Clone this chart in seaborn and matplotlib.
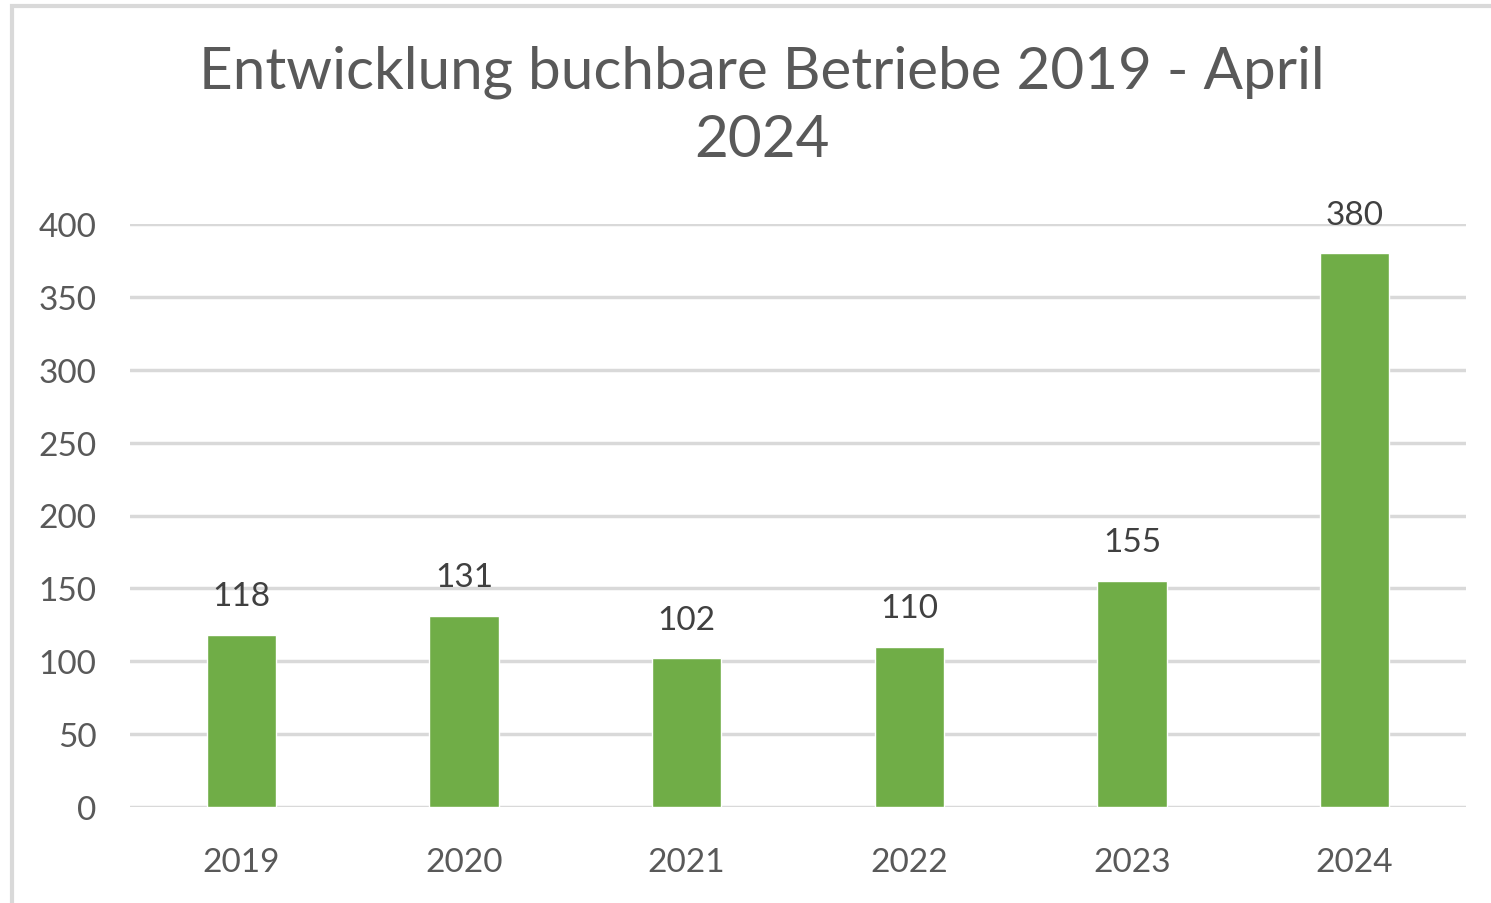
import matplotlib
matplotlib.use("Agg")
import matplotlib.pyplot as plt
import seaborn as sns
import pandas as pd
from matplotlib.patches import Rectangle

# Daten
jahre = ["2019", "2020", "2021", "2022", "2023", "2024"]
betriebe = [118, 131, 102, 110, 155, 380]
y_ticks = [0, 50, 100, 150, 200, 250, 300, 350, 400]

df = pd.DataFrame({"Jahr": jahre, "Betriebe": betriebe})

sns.set_theme(style="white")
plt.rcParams["font.family"] = ["Lato", "DejaVu Sans"]

text_col = "#595959"
grid_col = "#D9D9D9"
bar_col = "#70AD47"

fig = plt.figure(figsize=(14.91, 9.04), dpi=100)
ax = fig.add_axes([130 / 1491, 1 - 808 / 904, 1336 / 1491, 583 / 904])

sns.barplot(data=df, x="Jahr", y="Betriebe", color=bar_col, width=0.31,
            saturation=1, ax=ax, zorder=3)

ax.set_ylim(0, 400)
ax.set_xlim(-0.5, 5.5)
ax.set_yticks(y_ticks)
ax.yaxis.grid(True, color=grid_col, linewidth=2.5, zorder=0)
ax.set_axisbelow(True)
for s in ax.spines.values():
    s.set_visible(False)
ax.set_xlabel("")
ax.set_ylabel("")
ax.tick_params(axis="both", length=0, colors=text_col, labelsize=24)
ax.tick_params(axis="y", pad=24)
ax.tick_params(axis="x", pad=29)

# Werte über den Balken
for cont in ax.containers:
    ax.bar_label(cont, padding=17, fontsize=24, color="#404040")

fig.text(762 / 1491, 1 - 106 / 904, "Entwicklung buchbare Betriebe 2019 - April\n2024",
         ha="center", va="center", fontsize=42, color=text_col, linespacing=1.35)

# Rahmen
fig.patches.append(Rectangle((12 / 1491, -0.1), 1.2, 1 - 7 / 904 + 0.1,
                             transform=fig.transFigure, fill=False,
                             edgecolor="#D9D9D9", linewidth=3))

fig.savefig("out.png", dpi=100)
